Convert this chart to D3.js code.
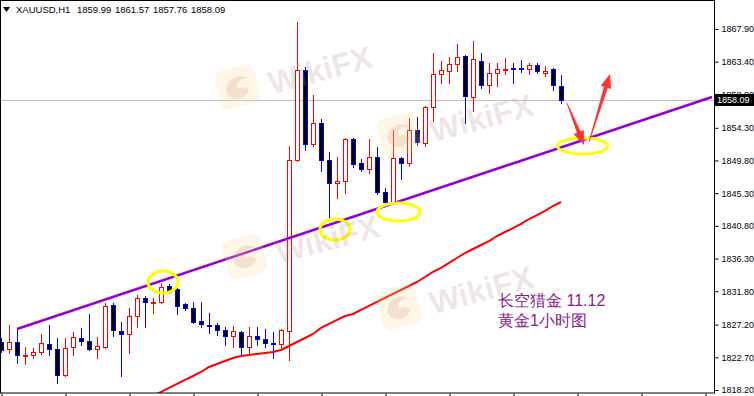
<!DOCTYPE html>
<html>
<head>
<meta charset="utf-8">
<script src="https://cdn.jsdelivr.net/npm/d3@7"></script>
<style>
html, body { margin: 0; padding: 0; background: #fff; }
svg { display: block; }
text { font-family: "Liberation Sans", Arial, sans-serif; }
</style>
</head>
<body>
<svg id="chart" width="754" height="396"></svg>
<script>
// Header line of the MT4 window.
const symbolName = "XAUUSD,H1";
const headerPrices = ["1859.99", "1861.57", "1857.76", "1858.09"];

// H1 candles, oldest first.
const opens = [
    1824.81, 1823.85, 1824.81, 1822.88, 1823.02, 1823.43, 1824.53, 1823.85, 1820.27, 1824.12,
    1825.36, 1824.95, 1823.85, 1824.12, 1829.90, 1826.32, 1825.91, 1828.39, 1830.87, 1830.25,
    1830.32, 1832.52, 1832.17, 1830.04, 1829.49, 1827.70, 1827.15, 1827.15, 1826.46, 1825.64,
    1826.19, 1824.12, 1825.64, 1825.22, 1824.67, 1824.53, 1826.32, 1849.87, 1862.26, 1852.07,
    1854.96, 1849.87, 1846.70, 1846.97, 1852.76, 1849.45, 1848.63, 1850.28, 1845.46, 1844.08,
    1850.14, 1849.45, 1854.00, 1852.21, 1857.16, 1861.70, 1862.12, 1863.08, 1864.18, 1858.54,
    1863.49, 1860.19, 1861.84, 1862.32, 1862.53, 1862.53, 1862.39, 1862.94, 1861.84, 1862.46,
    1859.99
];
const highs = [
    1825.36, 1827.15, 1826.46, 1824.12, 1823.98, 1825.91, 1827.15, 1825.36, 1825.36, 1826.19,
    1826.74, 1828.66, 1825.50, 1830.18, 1830.18, 1827.56, 1829.49, 1831.28, 1831.14, 1830.87,
    1832.93, 1832.79, 1832.24, 1830.18, 1830.32, 1830.32, 1828.80, 1827.43, 1826.87, 1827.01,
    1826.32, 1826.87, 1826.87, 1826.60, 1826.19, 1826.60, 1851.79, 1868.86, 1862.67, 1858.81,
    1855.51, 1850.97, 1850.28, 1852.89, 1852.89, 1850.00, 1852.76, 1851.65, 1846.01, 1854.00,
    1850.28, 1855.65, 1855.79, 1857.30, 1864.60, 1863.49, 1864.05, 1865.83, 1864.32, 1866.25,
    1864.60, 1863.22, 1863.22, 1863.91, 1863.22, 1863.63, 1863.22, 1863.22, 1862.81, 1862.53,
    1861.57
];
const lows = [
    1823.43, 1823.29, 1821.92, 1821.78, 1822.61, 1823.16, 1823.02, 1819.16, 1820.13, 1823.02,
    1824.40, 1823.71, 1822.61, 1823.98, 1825.64, 1820.13, 1823.29, 1826.87, 1826.87, 1828.80,
    1830.18, 1831.55, 1828.66, 1829.21, 1827.43, 1826.87, 1826.05, 1825.77, 1824.40, 1824.12,
    1822.88, 1823.16, 1824.40, 1824.12, 1822.61, 1824.12, 1822.33, 1849.73, 1851.24, 1851.79,
    1848.35, 1841.61, 1844.63, 1845.32, 1848.90, 1848.35, 1848.08, 1845.18, 1843.81, 1843.95,
    1847.25, 1849.04, 1851.93, 1851.79, 1855.23, 1860.47, 1860.47, 1862.12, 1854.96, 1856.61,
    1859.78, 1859.09, 1860.05, 1861.70, 1860.47, 1861.98, 1861.70, 1861.84, 1861.43, 1859.50,
    1857.76
];
const closes = [
    1823.71, 1824.81, 1823.02, 1823.02, 1823.43, 1824.67, 1823.85, 1820.27, 1823.98, 1825.50,
    1824.95, 1823.85, 1824.26, 1829.77, 1826.46, 1825.91, 1828.39, 1830.87, 1830.32, 1830.32,
    1832.38, 1831.69, 1829.77, 1829.49, 1827.56, 1827.29, 1827.08, 1826.46, 1825.64, 1826.32,
    1824.12, 1825.64, 1825.22, 1824.67, 1824.60, 1826.46, 1849.87, 1862.26, 1852.07, 1854.96,
    1849.87, 1846.70, 1846.97, 1852.76, 1849.31, 1848.63, 1850.28, 1845.46, 1844.08, 1850.14,
    1849.45, 1854.00, 1852.34, 1857.16, 1861.70, 1862.26, 1863.08, 1864.05, 1858.68, 1863.77,
    1860.19, 1861.84, 1862.39, 1862.39, 1862.46, 1862.39, 1862.94, 1862.12, 1862.12, 1860.19,
    1858.09
];

// Moving average (red), starting at bar maStart.
const maStart = 19;
const maValues = [
    1817.40, 1817.93, 1818.48, 1819.03, 1819.58, 1820.13, 1820.68, 1821.37, 1821.78, 1822.20,
    1822.61, 1822.88, 1823.02, 1823.16, 1823.30, 1823.43, 1823.71, 1824.26, 1824.81, 1825.36,
    1825.91, 1826.74, 1827.29, 1827.84, 1828.39, 1828.67, 1829.22, 1829.77, 1830.32, 1830.87,
    1831.42, 1831.97, 1832.52, 1833.07, 1833.76, 1834.45, 1835.00, 1835.69, 1836.37, 1837.06,
    1837.61, 1838.16, 1838.71, 1839.40, 1839.95, 1840.50, 1841.06, 1841.74, 1842.29, 1842.85,
    1843.53, 1844.08
];

// Price scale labels on the right.
const priceTicks = [1867.90, 1863.40, 1858.80, 1854.30, 1849.80, 1845.30, 1840.80, 1836.30, 1831.80, 1827.20, 1822.70, 1818.20];
const lastPrice = 1858.09;

// Hand-drawn annotations: trend line [bar, price], yellow rings [bar, price], arrows [from, to].
const trendLine = [[2, 1826.60], [88.875, 1858.54]];
const rings = [[20.25, 1833.07], [41.75, 1840.30], [49.69, 1842.71], [72.69, 1851.79]];
const ringSizes = [[15, 11], [15, 10.5], [21.5, 9], [25, 8]];
const arrows = [
    [[70.75, 1857.71], [72.875, 1851.93]],
    [[73.5, 1852.34], [76.125, 1861.70]]
];
const noteLines = ["长空猎金 11.12", "黄金1小时图"];
const noteAnchor = [62.125, 1829.77];

// Watermark logo positions [bar, price].
const watermarks = [[29.6, 1859.92], [49.75, 1853.30], [30.5, 1836.60], [49.75, 1829.63]];

const W = 754, H = 396;
const plotRight = 714, plotBottom = 393;

const svg = d3.select("#chart");

const x = d3.scaleLinear().domain([0, 89]).range([1, 713]);
const y = d3.scaleLinear().domain([1818.20, 1867.90]).range([390, 29]);

svg.append("defs").append("clipPath").attr("id", "plot")
    .append("rect").attr("x", 0).attr("y", 0).attr("width", plotRight).attr("height", plotBottom);

const plot = svg.append("g").attr("clip-path", "url(#plot)");

// Bid line
plot.append("line")
    .attr("x1", 0).attr("x2", plotRight)
    .attr("y1", Math.round(y(lastPrice)) + 0.5).attr("y2", Math.round(y(lastPrice)) + 0.5)
    .attr("stroke", "#c0c0c0");

// Candles
const bars = d3.range(opens.length).map(i => ({
    i, o: opens[i], h: highs[i], l: lows[i], c: closes[i]
}));
const candle = plot.selectAll("g.candle").data(bars).join("g").attr("class", "candle");
candle.append("line")
    .attr("x1", d => x(d.i) + 0.5).attr("x2", d => x(d.i) + 0.5)
    .attr("y1", d => Math.round(y(d.h))).attr("y2", d => Math.round(y(d.l)) + 1)
    .attr("stroke", d => d.c >= d.o ? "#ff0000" : "#0000ff");
candle.append("rect")
    .attr("x", d => x(d.i) - 1.5)
    .attr("width", 4)
    .attr("y", d => Math.round(y(Math.max(d.o, d.c))) + 0.5)
    .attr("height", d => Math.max(1, Math.round(y(Math.min(d.o, d.c))) - Math.round(y(Math.max(d.o, d.c)))))
    .attr("fill", d => d.c >= d.o ? "#ffffff" : "#000000")
    .attr("stroke", d => d.c >= d.o ? "#ff0000" : "#0000ff");

// Moving average
plot.append("path")
    .datum(maValues)
    .attr("fill", "none")
    .attr("stroke", "#ff0000")
    .attr("stroke-width", 2)
    .attr("d", d3.line().x((d, k) => x(maStart + k)).y(d => y(d)));

// Trend line
plot.append("path")
    .datum(trendLine)
    .attr("fill", "none")
    .attr("stroke", "#9400d3")
    .attr("stroke-width", 2.5)
    .attr("d", d3.line().x(d => x(d[0])).y(d => y(d[1])));

// Yellow rings
plot.selectAll("ellipse.ring").data(rings).join("ellipse")
    .attr("class", "ring")
    .attr("cx", d => x(d[0])).attr("cy", d => y(d[1]))
    .attr("rx", (d, k) => ringSizes[k][0]).attr("ry", (d, k) => ringSizes[k][1])
    .attr("fill", "none").attr("stroke", "#ffff00").attr("stroke-width", 3);

// Red arrows (tapered shaft + head)
function arrowPath(a, b) {
    const x0 = x(a[0]), y0 = y(a[1]), x1 = x(b[0]), y1 = y(b[1]);
    const len = Math.hypot(x1 - x0, y1 - y0);
    const ux = (x1 - x0) / len, uy = (y1 - y0) / len;
    const nx = -uy, ny = ux;
    const hl = 14, hw = 5.5;
    const bx = x1 - ux * hl, by = y1 - uy * hl;
    const pts = [
        [x0 + nx * 0.4, y0 + ny * 0.4],
        [bx + nx * 2, by + ny * 2],
        [bx + nx * hw, by + ny * hw],
        [x1, y1],
        [bx - nx * hw, by - ny * hw],
        [bx - nx * 2, by - ny * 2],
        [x0 - nx * 0.4, y0 - ny * 0.4]
    ];
    return "M" + pts.map(p => p[0].toFixed(1) + "," + p[1].toFixed(1)).join("L") + "Z";
}
plot.selectAll("path.arrow").data(arrows).join("path")
    .attr("class", "arrow")
    .attr("d", d => arrowPath(d[0], d[1]))
    .attr("fill", "#ff3434");

// Note text
svg.append("g").selectAll("text").data(noteLines).join("text")
    .attr("x", x(noteAnchor[0]))
    .attr("y", (d, k) => y(noteAnchor[1]) + k * 20)
    .attr("font-family", "'Noto Sans CJK SC', sans-serif")
    .attr("font-size", 16)
    .attr("fill", "#8b1a8b")
    .text(d => d);

// Watermarks
const wm = svg.append("g").attr("pointer-events", "none");
watermarks.forEach(p => {
    const g = wm.append("g")
        .attr("transform", `translate(${x(p[0])},${y(p[1])}) rotate(-15)`);
    g.append("rect")
        .attr("x", -20).attr("y", -20).attr("width", 40).attr("height", 40).attr("rx", 8)
        .attr("fill", "rgba(250,215,140,0.22)");
    g.append("path")
        .attr("d", "M-12,4 C-12,-10 4,-14 12,-6 C4,-8 -2,-4 0,2 C4,0 8,2 10,6 C4,14 -8,14 -12,4 Z")
        .attr("fill", "rgba(210,150,120,0.22)");
    g.append("text")
        .attr("x", 84).attr("y", 16)
        .attr("text-anchor", "middle")
        .attr("font-size", 32).attr("font-weight", "bold")
        .attr("fill", "rgba(180,140,140,0.22)")
        .text("WikiFX");
});

// Frame
svg.append("rect")
    .attr("x", 0.5).attr("y", 0.5).attr("width", plotRight).attr("height", plotBottom - 0.5)
    .attr("fill", "none").attr("stroke", "#000");

// Right price axis
const yAxis = svg.append("g")
    .attr("transform", `translate(${plotRight + 0.5},0)`)
    .call(d3.axisRight(y).tickValues(priceTicks).tickSize(4).tickPadding(3).tickFormat(d3.format(".2f")));
yAxis.select(".domain").remove();
yAxis.selectAll("text").attr("font-size", 9).attr("font-family", "'Liberation Sans', Arial, sans-serif").attr("fill", "#000");
yAxis.selectAll("line").attr("stroke", "#000");

// Time ticks at the bottom (labels fall below the picture)
const xAxis = svg.append("g")
    .attr("transform", `translate(0.5,${plotBottom + 0.5})`)
    .call(d3.axisBottom(x).tickValues(d3.range(0, 89, 8)).tickSize(4).tickFormat(""));
xAxis.select(".domain").remove();
xAxis.selectAll("line").attr("stroke", "#000");

// Last price label
const by = Math.round(y(lastPrice));
svg.append("rect")
    .attr("x", plotRight).attr("y", by - 6).attr("width", W - plotRight).attr("height", 12)
    .attr("fill", "#000");
svg.append("text")
    .attr("x", plotRight + 3).attr("y", by).attr("dy", "0.32em")
    .attr("font-size", 9).attr("fill", "#fff")
    .text(d3.format(".2f")(lastPrice));

// Header
svg.append("path").attr("d", "M3,7 L10,7 L6.5,12 Z").attr("fill", "#000");
svg.append("text")
    .attr("x", 16).attr("y", 13)
    .attr("font-size", 9.5).attr("fill", "#000")
    .text(symbolName);
svg.append("text")
    .attr("x", 77).attr("y", 13)
    .attr("font-size", 9.5).attr("fill", "#000")
    .attr("word-spacing", 1)
    .text(headerPrices.join(" "));
</script>
</body>
</html>
